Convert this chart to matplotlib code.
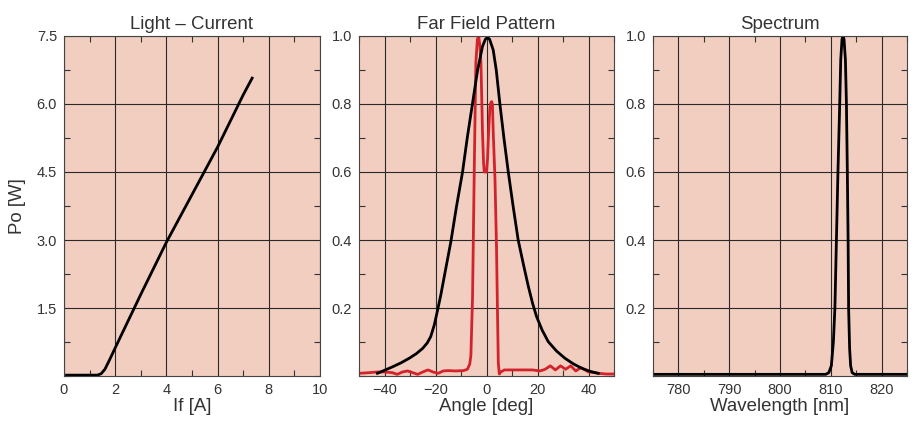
import matplotlib
matplotlib.use("Agg")
from matplotlib import pyplot as plt
from matplotlib.ticker import MultipleLocator

plt.rcParams["font.family"] = ["Liberation Sans", "DejaVu Sans"]

# Light - Current
li_current = [0.1, 0.5, 1.0, 1.3, 1.45, 1.6, 1.8, 2.0, 3.0, 4.0, 5.0, 6.0, 7.0, 7.35]
li_power = [0.02, 0.02, 0.02, 0.02, 0.05, 0.15, 0.38, 0.62, 1.8, 2.95, 4.0, 5.05, 6.2, 6.57]

# Far field pattern, black and red traces
ff_angle_black = [-42.8, -40, -36.9, -33.5, -30.4, -27.5, -25.1, -23.3, -21.9, -20.5, -19.2,
                  -17.9, -16.6, -14.0, -11.8, -9.4, -7.5, -5.5, -3.5, -1.6, -0.5, 0.4, 1.2,
                  2.6, 3.8, 5.2, 6.8, 8.5, 10.4, 12.4, 14.4, 16.4, 18.0, 19.6, 21.8, 24.2,
                  27.5, 30.8, 34, 37.3, 40.5, 43.8]
ff_black = [0.008, 0.017, 0.027, 0.039, 0.052, 0.066, 0.081, 0.097, 0.116, 0.15, 0.194,
            0.24, 0.292, 0.395, 0.498, 0.601, 0.704, 0.802, 0.9, 0.969, 0.99, 0.996, 0.99,
            0.959, 0.9, 0.802, 0.7, 0.601, 0.5, 0.4, 0.33, 0.263, 0.215, 0.175, 0.135,
            0.101, 0.073, 0.052, 0.036, 0.023, 0.014, 0.008]
ff_angle_red = [-50, -46, -43, -40, -37, -35, -33, -31, -29, -27, -25, -23, -21, -19, -17,
                -15, -12, -9, -7.5, -6.6, -6.15, -5.5, -4.8, -4.2, -3.6, -3.1, -2.6, -2.2,
                -1.6, -1.2, -0.9, -0.4, 0.0, 0.4, 0.7, 1.3, 1.7, 2.0, 2.3, 2.6, 3.3, 3.9,
                4.3, 4.6, 5.0, 5.6, 7, 10, 14, 18, 21, 23, 25, 27, 29, 31, 33, 35, 37, 40,
                44, 47, 50]
ff_red = [0.008, 0.01, 0.012, 0.012, 0.01, 0.005, 0.012, 0.015, 0.01, 0.005, 0.012, 0.018,
          0.012, 0.008, 0.015, 0.016, 0.015, 0.016, 0.02, 0.035, 0.06, 0.23, 0.62, 0.92,
          0.99, 1.0, 0.97, 0.92, 0.72, 0.63, 0.6, 0.6, 0.6, 0.64, 0.7, 0.79, 0.805, 0.807,
          0.8, 0.72, 0.58, 0.38, 0.18, 0.04, 0.006, 0.012, 0.018, 0.018, 0.018, 0.018,
          0.015, 0.02, 0.03, 0.018, 0.03, 0.02, 0.03, 0.015, 0.025, 0.012, 0.008, 0.006,
          0.006]

# Spectrum
sp_wavelength = [775, 809.0, 809.6, 810.1, 810.5, 810.8, 811.1, 811.4, 811.75, 811.95, 812.2,
                 812.4, 812.6, 812.87, 813.07, 813.25, 813.4, 813.5, 813.7, 813.9, 814.2,
                 814.7, 825]
sp_intensity = [0.005, 0.005, 0.01, 0.03, 0.1, 0.2, 0.4, 0.6, 0.8, 0.93, 0.99, 1.0, 0.99,
                0.93, 0.8, 0.6, 0.4, 0.2, 0.08, 0.03, 0.01, 0.005, 0.005]

BG = "#F2CEC0"
RED = "#D2232D"
TXT = "#333333"

fig = plt.figure(figsize=(9.23, 4.23), dpi=100)
bottom, height = 0.111, 0.804
ax1 = fig.add_axes([0.0693, bottom, 0.2774, height])
ax2 = fig.add_axes([0.3890, bottom, 0.2763, height])
ax3 = fig.add_axes([0.7075, bottom, 0.2752, height])


def style(ax, title, xlabel):
    ax.set_facecolor(BG)
    ax.set_title(title, fontsize=13.4, color=TXT, pad=5)
    ax.set_xlabel(xlabel, fontsize=13.4, color=TXT, labelpad=1)
    ax.grid(True, which="major", color="#2a2a2a", linewidth=0.8)
    ax.set_axisbelow(True)
    ax.tick_params(which="both", direction="in", top=True, right=True,
                   labelsize=10.5, labelcolor=TXT, color="#333333")
    ax.tick_params(which="major", length=0, pad=5)
    ax.tick_params(which="minor", length=4, width=0.8)
    for s in ax.spines.values():
        s.set_color("#444444")
        s.set_linewidth(0.8)


style(ax1, "Light \u2013 Current", "If [A]")
ax1.plot(li_current, li_power, color="black", linewidth=2)
ax1.set_xlim(0, 10)
ax1.set_ylim(0, 7.5)
ax1.set_xticks([0, 2, 4, 6, 8, 10])
ax1.set_yticks([1.5, 3.0, 4.5, 6.0, 7.5])
ax1.set_yticklabels(["1.5", "3.0", "4.5", "6.0", "7.5"])
ax1.xaxis.set_minor_locator(MultipleLocator(1))
ax1.yaxis.set_minor_locator(MultipleLocator(0.75))
ax1.set_ylabel("Po [W]", fontsize=13.4, color=TXT, labelpad=8)

style(ax2, "Far Field Pattern", "Angle [deg]")
ax2.plot(ff_angle_red, ff_red, color=RED, linewidth=2)
ax2.plot(ff_angle_black, ff_black, color="black", linewidth=2)
ax2.set_xlim(-50, 50)
ax2.set_ylim(0, 1.0)
ax2.set_xticks([-40, -20, 0, 20, 40])
ax2.set_xticklabels(["\u221240", "\u221220", "0", "20", "40"])
ax2.set_yticks([0.2, 0.4, 0.6, 0.8, 1.0])
ax2.xaxis.set_minor_locator(MultipleLocator(10))
ax2.yaxis.set_minor_locator(MultipleLocator(0.1))

style(ax3, "Spectrum", "Wavelength [nm]")
ax3.plot(sp_wavelength, sp_intensity, color="black", linewidth=2)
ax3.set_xlim(775, 825)
ax3.set_ylim(0, 1.0)
ax3.set_xticks([780, 790, 800, 810, 820])
ax3.set_yticks([0.2, 0.4, 0.6, 0.8, 1.0])
ax3.xaxis.set_minor_locator(MultipleLocator(5))
ax3.yaxis.set_minor_locator(MultipleLocator(0.1))

fig.savefig("out.png", dpi=100, facecolor="white")
